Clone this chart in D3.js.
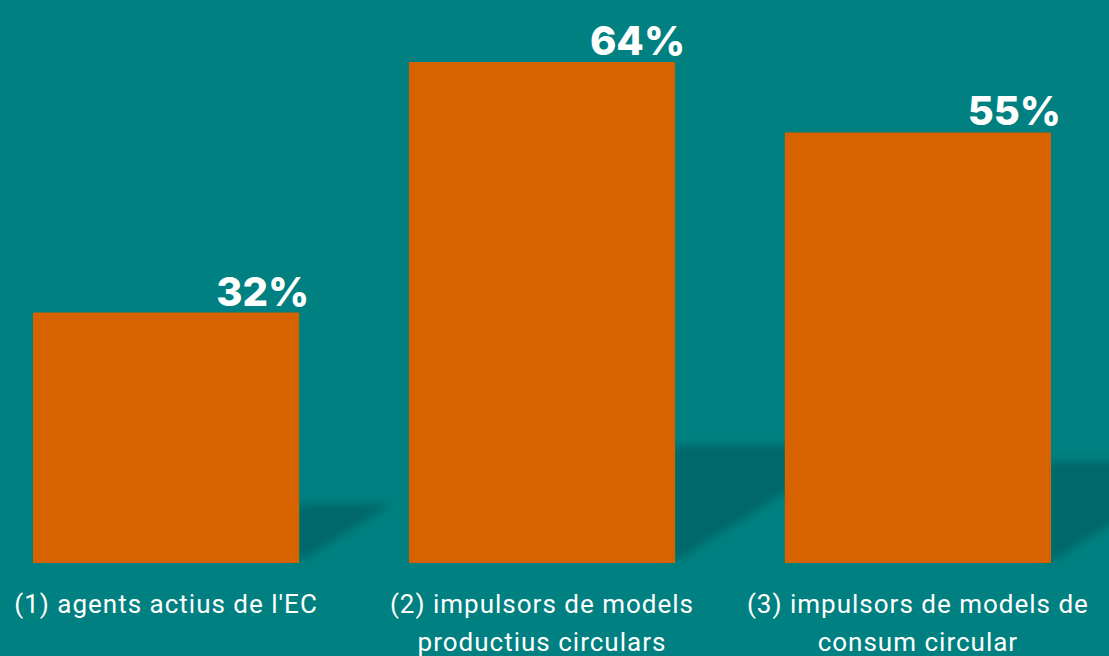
<!DOCTYPE html>
<html>
<head>
<meta charset="utf-8">
<script src="https://cdn.jsdelivr.net/npm/d3@7"></script>
<style>
  html, body { margin: 0; padding: 0; background: #008080; }
  svg { display: block; }
</style>
</head>
<body>
<svg width="1109" height="656"></svg>
<script>
// data
var categories = ["(1) agents actius de l'EC", "(2) impulsors de models productius circulars", "(3) impulsors de models de consum circular"];
var labelLines = [["(1) agents actius de l'EC"], ["(2) impulsors de models", "productius circulars"], ["(3) impulsors de models de", "consum circular"]];
var values = [32, 64, 55];

var width = 1109, height = 656;
var baseY = 563;

var svg = d3.select("svg");

var x = d3.scaleBand()
    .domain(categories)
    .range([33, 1051])
    .paddingInner(0.292)
    .paddingOuter(0);

var y = d3.scaleLinear()
    .domain([0, 64])
    .range([baseY, 62]);

var defs = svg.append("defs");
defs.append("filter")
    .attr("id", "blur")
    .attr("x", "-20%").attr("y", "-20%")
    .attr("width", "140%").attr("height", "140%")
    .append("feGaussianBlur")
    .attr("stdDeviation", 4);

// shadows behind bars
var shadows = svg.append("g").attr("filter", "url(#blur)");
shadows.selectAll("path.shadow")
    .data(values)
    .enter()
    .append("path")
    .attr("class", "shadow")
    .attr("fill", "#016868")
    .attr("d", function (d, i) {
        var xr = x(categories[i]) + x.bandwidth();
        var h = baseY - y(d);
        var sh = h * 0.235, sw = h * 0.37;
        return "M" + (xr - 2) + "," + (baseY - sh) +
            "L" + (xr + sw) + "," + (baseY - sh) +
            "L" + (xr - 2) + "," + baseY + "Z";
    });

// bars
svg.selectAll("rect.bar")
    .data(values)
    .enter()
    .append("rect")
    .attr("class", "bar")
    .attr("x", function (d, i) { return x(categories[i]); })
    .attr("y", function (d) { return y(d); })
    .attr("width", x.bandwidth())
    .attr("height", function (d) { return baseY - y(d); })
    .attr("fill", "#d66200");

// value labels
svg.selectAll("text.value")
    .data(values)
    .enter()
    .append("text")
    .attr("class", "value")
    .attr("x", function (d, i) { return x(categories[i]) + x.bandwidth() + 10; })
    .attr("y", function (d) { return y(d) - 7; })
    .attr("text-anchor", "end")
    .attr("fill", "#ffffff")
    .attr("font-family", "Inter, 'Open Sans', sans-serif")
    .attr("font-weight", 800)
    .attr("font-size", 40)
    .text(function (d) { return d + "%"; });

// category labels
var labels = svg.selectAll("text.cat")
    .data(labelLines)
    .enter()
    .append("text")
    .attr("class", "cat")
    .attr("text-anchor", "middle")
    .attr("fill", "#ffffff")
    .attr("font-family", "Roboto, sans-serif")
    .attr("font-size", 26)
    .attr("letter-spacing", 1);

labels.selectAll("tspan")
    .data(function (d, i) { return d.map(function (t) { return { t: t, i: i }; }); })
    .enter()
    .append("tspan")
    .attr("x", function (d) { return x(categories[d.i]) + x.bandwidth() / 2; })
    .attr("y", function (d, j) { return 613 + j * 38; })
    .text(function (d) { return d.t; });
</script>
</body>
</html>
